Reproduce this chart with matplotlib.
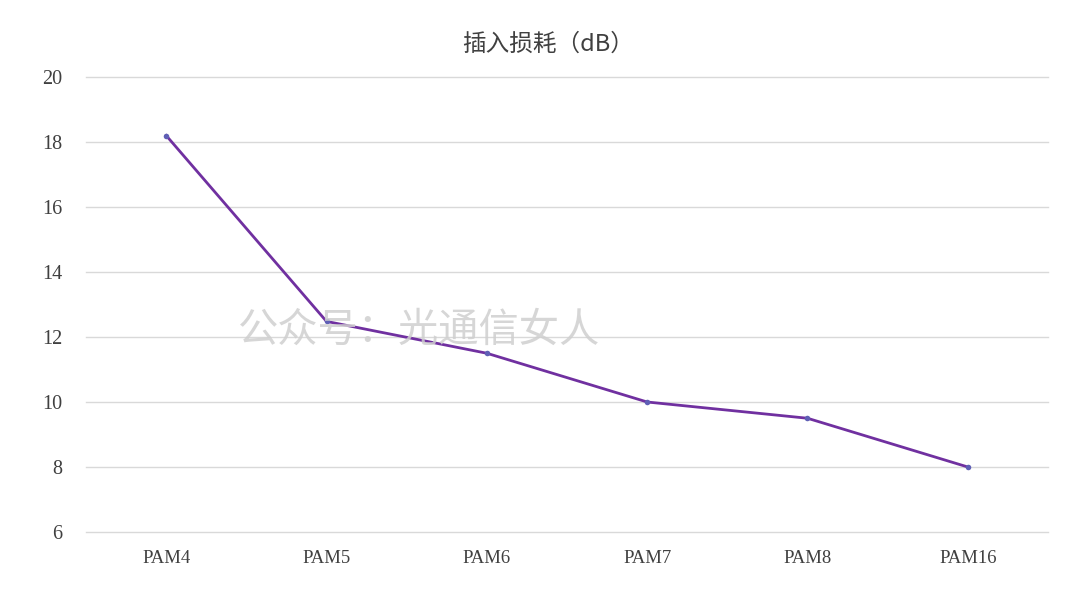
import matplotlib
matplotlib.use("Agg")
import matplotlib.pyplot as plt

categories = ["PAM4", "PAM5", "PAM6", "PAM7", "PAM8", "PAM16"]
values = [18.2, 12.48, 11.5, 10.0, 9.5, 8.0]
yticks = [6, 8, 10, 12, 14, 16, 18, 20]
title = "插入损耗（dB）"
watermark = "公众号：光通信女人"

plt.rcParams['font.family'] = ['Liberation Serif', 'Noto Sans CJK SC', 'DejaVu Sans']

fig = plt.figure(figsize=(10.8, 6.08), dpi=100)
ax = fig.add_axes([86/1080, 1-532/608, (1048-86)/1080, (532-77)/608])

x = list(range(len(categories)))
ax.plot(x, values, color='#7030A0', linewidth=2.0, zorder=3)
ax.scatter(x, values, s=16, color='#5F5FB5', zorder=4, linewidths=0)

ax.set_xlim(-0.5, len(categories) - 0.5)
ax.set_ylim(6, 20)
ax.set_yticks(yticks)
ax.set_yticklabels([str(v) for v in yticks])
ax.set_xticks(x)
ax.set_xticklabels(categories)
ax.grid(axis='y', color='#D9D9D9', linewidth=1.0)
for gl in ax.get_ygridlines():
    gl.set_clip_on(False)
ax.set_axisbelow(True)
for s in ax.spines.values():
    s.set_visible(False)
ax.tick_params(axis='both', length=0, colors='#404040')
ax.tick_params(axis='y', labelsize=14.5, pad=17)
ax.tick_params(axis='x', labelsize=13.5, pad=13)

fig.text(548/1080, 1-44/608, title, ha='center', va='center',
         fontsize=17, color='#404040', family=['Noto Sans CJK SC', 'DejaVu Sans'])

fig.text(419/1080, 1-330/608, watermark, ha='center', va='center',
         fontsize=29, color='#CFCFCF', alpha=0.85, fontweight='light',
         family=['Noto Sans CJK SC', 'DejaVu Sans'], zorder=5)

fig.savefig("out.png", dpi=100, facecolor='white')
